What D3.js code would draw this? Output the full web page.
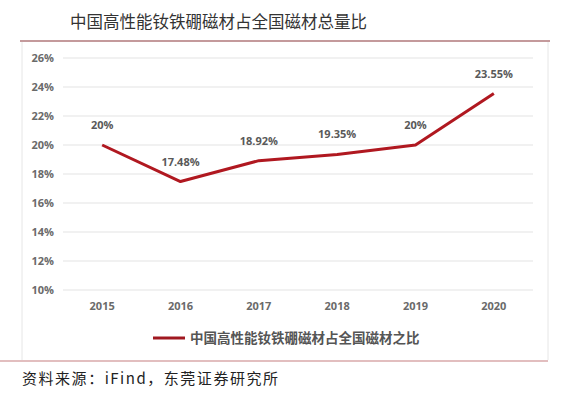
<!DOCTYPE html>
<html><head><meta charset="utf-8">
<script src="https://cdn.jsdelivr.net/npm/d3@7/dist/d3.min.js"></script>
<style>body{margin:0;background:#fff;}svg{display:block;font-family:"Noto Sans CJK SC","Noto Sans",sans-serif;}</style>
</head><body><svg id="c" width="585" height="394"></svg>
<script>
const years = ["2015","2016","2017","2018","2019","2020"];
const shares = [20, 17.48, 18.92, 19.35, 20, 23.55];
const valueLabels = ["20%","17.48%","18.92%","19.35%","20%","23.55%"];
const yTicks = [10,12,14,16,18,20,22,24,26];
const title = "中国高性能钕铁硼磁材占全国磁材总量比";
const legendText = "中国高性能钕铁硼磁材占全国磁材之比";
const sourceText = "资料来源：iFind，东莞证券研究所";

const svg = d3.select("#c");
const x = d3.scaleBand().domain(years).range([63,533]);
const y = d3.scaleLinear().domain([10,26]).range([290,58]);

svg.append("text").attr("x",70).attr("y",28).attr("font-size",16.5).attr("fill","#333").text(title);
svg.append("line").attr("x1",20).attr("x2",550).attr("y1",41).attr("y2",41).attr("stroke","#c49a9c").attr("stroke-width",2);
// chart box
svg.append("line").attr("x1",22).attr("x2",22).attr("y1",42).attr("y2",360).attr("stroke","#e6e6e6");
svg.append("line").attr("x1",548).attr("x2",548).attr("y1",42).attr("y2",360).attr("stroke","#e6e6e6");
svg.append("line").attr("x1",0).attr("x2",548).attr("y1",361).attr("y2",361).attr("stroke","#d9a8aa").attr("stroke-width",1.5);

// grid
svg.append("g").selectAll("line").data(yTicks).join("line")
  .attr("x1",63).attr("x2",533).attr("y1",d=>y(d)).attr("y2",d=>y(d))
  .attr("stroke","#e3e3e3");
svg.append("g").selectAll("text").data(yTicks).join("text")
  .attr("x",54).attr("y",d=>y(d)+4).attr("text-anchor","end")
  .attr("font-size",11).attr("font-weight","bold").attr("fill","#6a6a6a")
  .attr("font-family","Open Sans, sans-serif").text(d=>d+"%");
svg.append("g").selectAll("text").data(years).join("text")
  .attr("x",d=>x(d)+x.bandwidth()/2).attr("y",310).attr("text-anchor","middle")
  .attr("font-size",11).attr("font-weight","bold").attr("fill","#6a6a6a")
  .attr("font-family","Open Sans, sans-serif").text(d=>d);

const pts = years.map((yr,i)=>[x(yr)+x.bandwidth()/2, y(shares[i])]);
svg.append("path").attr("d",d3.line()(pts)).attr("fill","none")
  .attr("stroke","#b01820").attr("stroke-width",3).attr("stroke-linejoin","round");
svg.append("g").selectAll("text").data(years).join("text")
  .attr("x",(d,i)=>pts[i][0]).attr("y",(d,i)=>pts[i][1]-16).attr("text-anchor","middle")
  .attr("font-size",11).attr("font-weight","bold").attr("fill","#595959")
  .attr("font-family","Open Sans, sans-serif").text((d,i)=>valueLabels[i]);

// legend
svg.append("line").attr("x1",153).attr("x2",185).attr("y1",338).attr("y2",338).attr("stroke","#a01820").attr("stroke-width",3);
svg.append("text").attr("x",190).attr("y",343).attr("font-size",13.5).attr("font-weight","bold").attr("fill","#555").text(legendText);

svg.append("text").attr("x",22).attr("y",384).attr("font-size",15).attr("fill","#222")
  .attr("textLength",256).attr("lengthAdjust","spacing").text(sourceText);
</script></body></html>
